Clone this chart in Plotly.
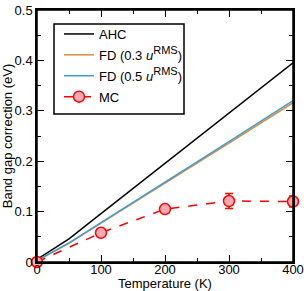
import plotly.graph_objects as go

temps_line = [0, 50, 100, 200, 300, 400]
ahc = [0.005, 0.046, 0.096, 0.196, 0.296, 0.395]
fd03 = [0.003, 0.037, 0.077, 0.156, 0.236, 0.316]
fd05 = [0.003, 0.038, 0.078, 0.158, 0.239, 0.320]
temps_mc = [0, 100, 200, 300, 400]
mc = [0.0, 0.058, 0.105, 0.121, 0.120]
mc_err = [0.002, 0.004, 0.007, 0.015, 0.011]

font = "Liberation Sans, Arial, sans-serif"
sup = '<sup><span style="font-size:11px">RMS</span></sup>'
fig = go.Figure()
fig.add_trace(go.Scatter(x=temps_line, y=ahc, mode="lines", name="AHC",
                         line=dict(color="black", width=1.5), legendgroup="a"))
fig.add_trace(go.Scatter(x=temps_line, y=fd03, mode="lines", name="FD (0.3 <i>u</i>" + sup + ")",
                         line=dict(color="#e08a3c", width=1.5), legendgroup="b"))
fig.add_trace(go.Scatter(x=temps_line, y=fd05, mode="lines", name="FD (0.5 <i>u</i>" + sup + ")",
                         line=dict(color="#3a9fd1", width=1.5), legendgroup="c"))
fig.add_trace(go.Scatter(x=temps_mc, y=mc, mode="lines+markers", name="MC",
                         line=dict(color="#ff0000", width=1.5, dash="dash"),
                         marker=dict(size=11, color="#f9aab6", line=dict(color="#ff0000", width=1.5)),
                         error_y=dict(type="data", array=mc_err, color="#ff0000", thickness=1.5, width=4),
                         legendgroup="d", cliponaxis=False))

axis_common = dict(showline=True, linecolor="black", linewidth=1.5, mirror="ticks",
                   ticks="inside", ticklen=7, tickwidth=1.2, tickcolor="black",
                   showgrid=False, zeroline=False, automargin=False,
                   tickfont=dict(family=font, size=13, color="black"))
fig.update_xaxes(range=[0, 400], tickvals=[0, 100, 200, 300, 400],
                 minor=dict(dtick=50, ticks="inside", ticklen=4, tickcolor="black", tickwidth=1.2),
                 ticklabelstandoff=-5,
                 title=dict(text="Temperature (K)", font=dict(family=font, size=13, color="black"), standoff=0),
                 **axis_common)
fig.update_yaxes(range=[0, 0.5], tickvals=[0, 0.1, 0.2, 0.3, 0.4, 0.5],
                 ticktext=["0", "0.1", "0.2", "0.3", "0.4", "0.5"],
                 minor=dict(dtick=0.05, ticks="inside", ticklen=4, tickcolor="black", tickwidth=1.2),
                 title=dict(text="Band gap correction (eV)", font=dict(family=font, size=13, color="black"), standoff=0),
                 **axis_common)

top = 10
H = 262 - top
x0 = (54 - 37) / 256
x1 = (184 - 37) / 256
y1 = (262 - 24) / H
y0 = (262 - 114) / H
fig.add_shape(type="rect", xref="paper", yref="paper", x0=x0, x1=x1, y0=y0, y1=y1,
              line=dict(color="black", width=1.5), fillcolor="white", layer="below")
fig.add_shape(type="rect", xref="paper", yref="paper", x0=0, x1=1, y0=0, y1=1,
              line=dict(color="black", width=1.5), layer="above")

fig.update_layout(width=304, height=291, margin=dict(l=37, r=11, t=top, b=29, autoexpand=False),
                  paper_bgcolor="white", plot_bgcolor="white",
                  font=dict(family=font, size=13, color="black"),
                  legend=dict(x=(59 - 37) / 256, y=(262 - 19) / H, xanchor="left", yanchor="top",
                              borderwidth=0, bgcolor="rgba(0,0,0,0)",
                              font=dict(family=font, size=13, color="black"),
                              tracegroupgap=1, itemwidth=30),
                  showlegend=True)
fig.write_html("out.html", config={"displayModeBar": False},
               post_script="document.body.style.margin='0';document.body.style.overflow='hidden';")
